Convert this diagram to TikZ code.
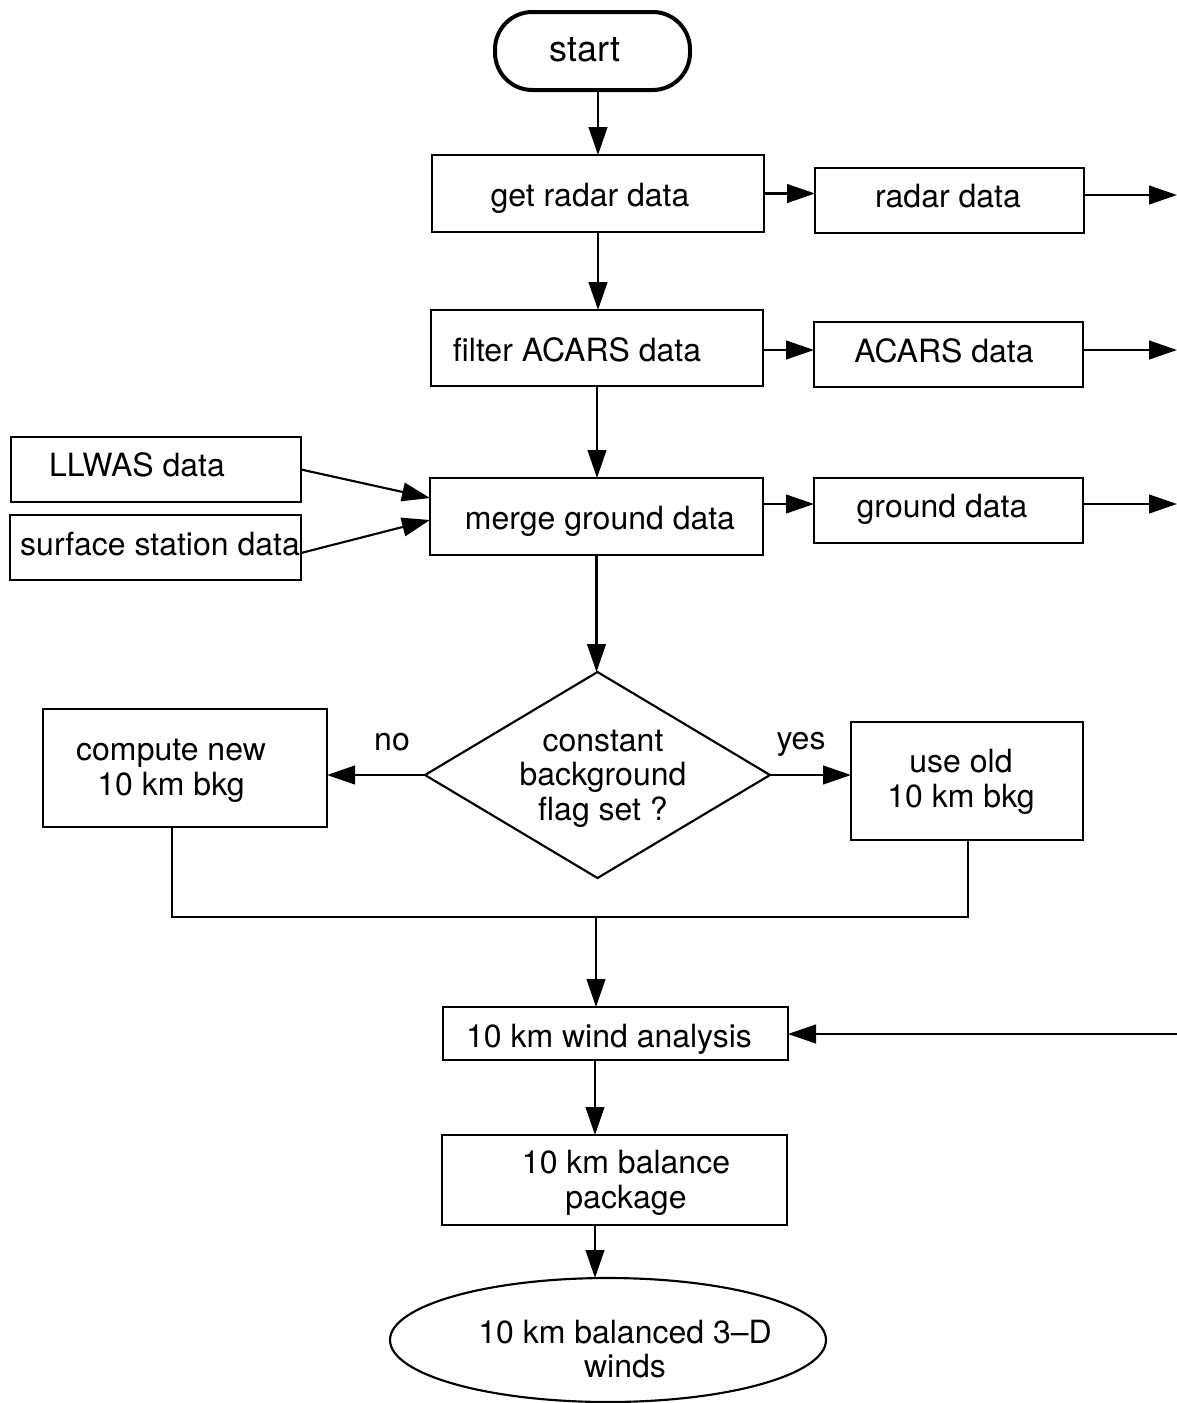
\documentclass[tikz,border=0pt]{standalone}
\usepackage{fontspec}
\setmainfont{TeX Gyre Heros}
\usetikzlibrary{shapes.geometric,arrows.meta}
\newcommand\lnstrut{\rule[-5pt]{0pt}{22pt}}
\begin{document}
\begin{tikzpicture}[x=0.75pt,y=-0.75pt,
  box/.style={draw,line width=1.8pt,inner sep=0pt,outer sep=0pt},
  ln/.style={line width=1.6pt},
  arr/.style={line width=1.6pt,-{Triangle[length=21pt,width=14pt]}},
  txt/.style={font=\fontsize{24}{26}\selectfont,align=center,inner sep=0pt}]
\useasboundingbox (0,0) rectangle (1177,1403);
% boxes
\node[box,line width=3pt,rounded corners=28pt,minimum width=146.25pt,minimum height=58.5pt] (st) at (592.5,51) {};
\node[box,minimum width=249pt,minimum height=57.75pt] (gr) at (598,193.5) {};
\node[box,minimum width=201.75pt,minimum height=48.75pt] (rd) at (949.5,200.5) {};
\node[box,minimum width=249pt,minimum height=57pt] (fa) at (597,348) {};
\node[box,minimum width=201.75pt,minimum height=48.75pt] (ad) at (948.5,354.5) {};
\node[box,minimum width=217.5pt,minimum height=48.75pt] (ll) at (156,469.5) {};
\node[box,minimum width=218.25pt,minimum height=48.75pt] (ss) at (155.5,547.5) {};
\node[box,minimum width=249.75pt,minimum height=57.75pt] (mg) at (596.5,516.5) {};
\node[box,minimum width=201.75pt,minimum height=48.75pt] (gd) at (948.5,510.5) {};
\node[box,diamond,line width=1.6pt,minimum width=258.75pt,minimum height=154.5pt] (dm) at (597.5,775) {};
\node[box,minimum width=213pt,minimum height=88.5pt] (cn) at (185,768) {};
\node[box,minimum width=174pt,minimum height=88.5pt] (uo) at (967,781) {};
\node[box,minimum width=258.75pt,minimum height=39.75pt] (wa) at (615.5,1033.5) {};
\node[box,minimum width=258.75pt,minimum height=67.5pt] (bp) at (614.5,1180) {};
\node[box,ellipse,line width=1.6pt,minimum width=327pt,minimum height=93pt] (el) at (608,1340) {};
% texts
\node[txt,font=\fontsize{27}{29}\selectfont] (tst) at (585,53) {\lnstrut start};
\node[txt] (tgr) at (590,198) {\lnstrut get radar data};
\node[txt] (trd) at (948,199) {\lnstrut radar data};
\node[txt] (tfa) at (577,353) {\lnstrut filter ACARS data};
\node[txt] (tad) at (944,354) {\lnstrut ACARS data};
\node[txt] (tll) at (137,468) {\lnstrut LLWAS data};
\node[txt] (tss) at (160,547) {\lnstrut surface station data};
\node[txt] (tmg) at (600,521) {\lnstrut merge ground data};
\node[txt] (tgd) at (942,509) {\lnstrut ground data};
\node[txt] (tdm) at (603,778) {\lnstrut constant\\\lnstrut background\\\lnstrut flag set ?};
\node[txt] (tcn) at (171,770) {\lnstrut compute new\\\lnstrut 10 km bkg};
\node[txt] (tuo) at (961,782) {\lnstrut use old\\\lnstrut 10 km bkg};
\node[txt] (tno) at (392,742) {\lnstrut no};
\node[txt] (tyes) at (801,742) {\lnstrut yes};
\node[txt] (twa) at (609,1039) {\lnstrut 10 km wind analysis};
\node[txt] (tbp) at (626,1183) {\lnstrut 10 km balance\\\lnstrut package};
\node[txt] (tel) at (625,1352) {\lnstrut 10 km balanced 3--D\\\lnstrut winds};
% helper coordinates
\coordinate (o1) at (1177,195);
\coordinate (o2) at (1177,350);
\coordinate (o3) at (1177,504);
\coordinate (o4) at (1177,1034);
\coordinate (m1) at (430,498);
\coordinate (m2) at (430,520);
\coordinate (s1) at (301,553);
\coordinate (jl) at (172,917);
\coordinate (jr) at (968,917);
\coordinate (jm) at (596,917);
\coordinate (cx) at (595,1100);
% connectors
\draw[arr] (st.south -| gr.north) -- (gr.north);
\draw[arr] (gr.east) -- (gr.east -| rd.west);
\draw[arr] (rd.east |- o1) -- (o1);
\draw[arr] (gr.south) -- (gr.south |- fa.north);
\draw[arr] (fa.east |- o2) -- (ad.west |- o2);
\draw[arr] (ad.east |- o2) -- (o2);
\draw[arr] (fa.south) -- (fa.south |- mg.north);
\draw[arr] (mg.east |- o3) -- (gd.west |- o3);
\draw[arr] (gd.east |- o3) -- (o3);
\draw[arr] (ll.east) -- (mg.west |- m1);
\draw[arr] (ss.east |- s1) -- (mg.west |- m2);
\draw[arr] (mg.south) -- (mg.south |- dm.north);
\draw[arr] (dm.west) -- (dm.west -| cn.east);
\draw[arr] (dm.east) -- (dm.east -| uo.west);
\draw[ln] (cn.south -| jl) -- (jl) -- (jr) -- (uo.south -| jr);
\draw[arr] (jm) -- (jm |- wa.north);
\draw[arr] (o4) -- (wa.east |- o4);
\draw[arr] (wa.south -| cx) -- (bp.north -| cx);
\draw[arr] (bp.south -| cx) -- (el.north -| cx);
\end{tikzpicture}
\end{document}
